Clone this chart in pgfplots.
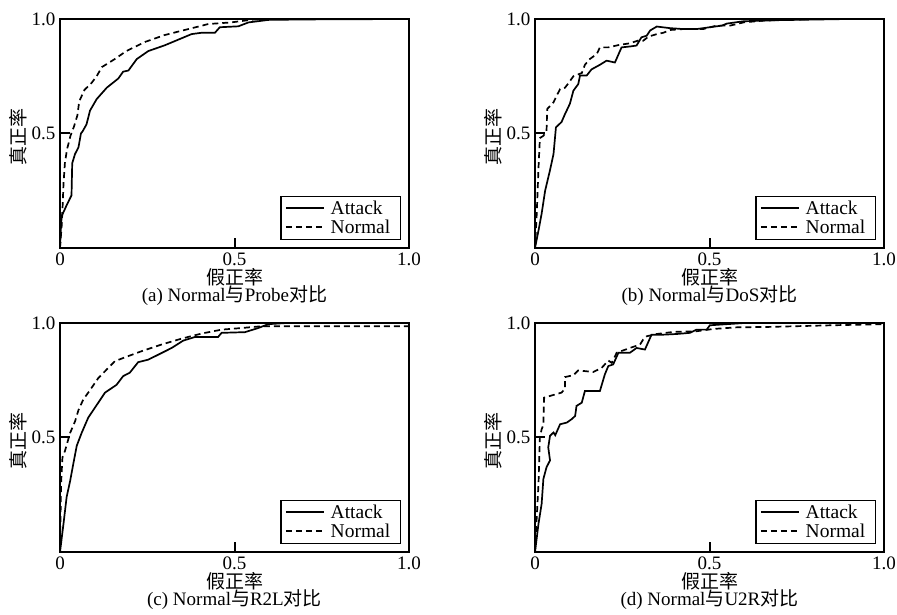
\documentclass[border=0pt]{standalone}
\usepackage{pgfplots}
\pgfplotsset{compat=1.18}
\usepackage{fontspec}
\setmainfont{Liberation Serif}
\newfontfamily\cjk{Noto Sans CJK SC}

\pgfplotsset{
  roc/.style={
    width=349pt, height=229pt, scale only axis,
    line width=2.6pt,
    xmin=0, xmax=1, ymin=0, ymax=1,
    xtick={0,0.5,1}, xticklabels={0,0.5,1.0},
    ytick={0.5,1}, yticklabels={0.5,1.0},
    xtick pos=left, ytick pos=left,
    tick align=inside, major tick length=10pt,
    tick style={black, line width=2pt},
    xlabel={\cjk 假正率}, ylabel={\cjk 真正率},
    xlabel style={at={(axis description cs:0.5,-0.127)}, anchor=center},
    ylabel style={at={(axis description cs:-0.12,0.485)}, anchor=center},
    title style={at={(axis description cs:0.5,-0.236)}, anchor=center},
    legend style={at={(rel axis cs:0.977,0.035)}, anchor=south east,
      draw=black, line width=1.4pt, inner xsep=4pt, inner ysep=3pt,
      row sep=1pt, font=\fontsize{19.5}{21}\selectfont,
      nodes={inner xsep=6pt, inner ysep=1.5pt}},
    legend cell align=left,
    legend image code/.code={\draw[#1] (0pt,0pt) -- (38pt,0pt);},
    font=\fontsize{19}{22}\selectfont,
  },
  atk/.style={black, solid, line width=1.7pt, mark=none},
  nrm/.style={black, line width=1.7pt, mark=none, dash pattern=on 6pt off 4pt},
}

\begin{document}
\begin{tikzpicture}
\path[use as bounding box] (0,0) rectangle (897pt,615pt);

% (a)
\begin{axis}[roc, at={(60pt,367pt)}, anchor=south west,
  title={(a) Normal{\cjk 与}Probe{\cjk 对比}}]
\addplot[atk] coordinates {(0,0) (0.003,0.10) (0.005,0.14) (0.02,0.19) (0.033,0.23)
 (0.035,0.37) (0.043,0.41) (0.053,0.44) (0.06,0.50) (0.065,0.51) (0.076,0.54)
 (0.086,0.60) (0.105,0.65) (0.134,0.70) (0.167,0.74) (0.181,0.77) (0.196,0.775)
 (0.22,0.825) (0.253,0.86) (0.30,0.885) (0.344,0.913) (0.377,0.934) (0.406,0.94)
 (0.444,0.94) (0.458,0.964) (0.511,0.968) (0.54,0.985) (0.597,0.996) (0.7,0.998) (1,1)};
\addlegendentry{Attack}
\addplot[nrm] coordinates {(0,0) (0.005,0.10) (0.008,0.20) (0.01,0.28) (0.014,0.37)
 (0.02,0.43) (0.03,0.49) (0.04,0.53) (0.05,0.58) (0.055,0.64) (0.07,0.69) (0.09,0.72)
 (0.105,0.75) (0.12,0.79) (0.157,0.825) (0.19,0.86) (0.244,0.90) (0.30,0.93)
 (0.368,0.956) (0.425,0.978) (0.49,0.985) (0.55,0.997) (0.6,1) (1,1)};
\addlegendentry{Normal}
\end{axis}

% (b)
\begin{axis}[roc, at={(535pt,367pt)}, anchor=south west,
  title={(b) Normal{\cjk 与}DoS{\cjk 对比}}]
\addplot[atk] coordinates {(0,0) (0.01,0.076) (0.019,0.15) (0.029,0.25) (0.043,0.34)
 (0.053,0.41) (0.06,0.527) (0.076,0.55) (0.086,0.585) (0.10,0.63) (0.11,0.687)
 (0.124,0.716) (0.129,0.753) (0.148,0.753) (0.162,0.78) (0.186,0.80) (0.205,0.818)
 (0.229,0.81) (0.248,0.876) (0.272,0.88) (0.291,0.884) (0.305,0.92) (0.32,0.927)
 (0.33,0.95) (0.349,0.967) (0.387,0.96) (0.425,0.956) (0.463,0.956) (0.501,0.964)
 (0.535,0.971) (0.55,0.98) (0.597,0.99) (0.7,0.995) (0.9,1) (1,1)};
\addlegendentry{Attack}
\addplot[nrm] coordinates {(0,0) (0.005,0.15) (0.01,0.35) (0.014,0.48) (0.024,0.49)
 (0.033,0.51) (0.035,0.607) (0.053,0.636) (0.062,0.665) (0.072,0.694) (0.086,0.70)
 (0.096,0.72) (0.11,0.75) (0.134,0.764) (0.143,0.80) (0.157,0.825) (0.177,0.847)
 (0.186,0.876) (0.21,0.876) (0.239,0.886) (0.272,0.894) (0.30,0.908) (0.31,0.905)
 (0.325,0.923) (0.349,0.934) (0.368,0.94) (0.387,0.952) (0.425,0.956) (0.482,0.956)
 (0.52,0.971) (0.559,0.971) (0.597,0.985) (0.654,0.993) (0.8,1) (1,1)};
\addlegendentry{Normal}
\end{axis}

% (c)
\begin{axis}[roc, at={(60pt,63pt)}, anchor=south west,
  title={(c) Normal{\cjk 与}R2L{\cjk 对比}}]
\addplot[atk] coordinates {(0,0) (0.01,0.123) (0.019,0.24) (0.029,0.31) (0.038,0.384)
 (0.048,0.464) (0.062,0.52) (0.081,0.587) (0.10,0.63) (0.129,0.696) (0.162,0.73)
 (0.181,0.768) (0.2,0.783) (0.224,0.829) (0.253,0.84) (0.282,0.862) (0.32,0.891)
 (0.353,0.923) (0.387,0.939) (0.453,0.939) (0.463,0.957) (0.53,0.96) (0.568,0.978)
 (0.597,0.995) (0.65,1) (1,1)};
\addlegendentry{Attack}
\addplot[nrm] coordinates {(0,0) (0.003,0.297) (0.007,0.413) (0.014,0.44) (0.029,0.52)
 (0.043,0.57) (0.053,0.62) (0.067,0.667) (0.081,0.696) (0.11,0.76) (0.157,0.833)
 (0.186,0.85) (0.234,0.877) (0.291,0.906) (0.349,0.932) (0.406,0.954) (0.463,0.971)
 (0.52,0.978) (0.578,0.986) (1,0.986)};
\addlegendentry{Normal}
\end{axis}

% (d)
\begin{axis}[roc, at={(535pt,63pt)}, anchor=south west,
  title={(d) Normal{\cjk 与}U2R{\cjk 对比}}]
\addplot[atk] coordinates {(0,0) (0.01,0.123) (0.019,0.21) (0.024,0.319) (0.033,0.37)
 (0.043,0.40) (0.038,0.457) (0.043,0.507) (0.053,0.522) (0.058,0.51) (0.072,0.558)
 (0.091,0.565) (0.105,0.58) (0.115,0.594) (0.119,0.638) (0.134,0.652) (0.143,0.703)
 (0.186,0.703) (0.2,0.775) (0.21,0.812) (0.224,0.819) (0.239,0.87) (0.272,0.87)
 (0.291,0.891) (0.315,0.884) (0.334,0.949) (0.368,0.949) (0.406,0.952) (0.444,0.957)
 (0.463,0.971) (0.492,0.971) (0.501,0.99) (0.6,1) (1,1)};
\addlegendentry{Attack}
\addplot[nrm] coordinates {(0,0) (0.005,0.152) (0.01,0.297) (0.014,0.5) (0.019,0.536)
 (0.024,0.555) (0.026,0.674) (0.076,0.696) (0.086,0.713) (0.086,0.764) (0.11,0.772)
 (0.124,0.793) (0.167,0.786) (0.191,0.804) (0.21,0.836) (0.22,0.826) (0.234,0.87)
 (0.272,0.891) (0.301,0.906) (0.31,0.928) (0.32,0.942) (0.349,0.952) (0.396,0.961)
 (0.463,0.964) (0.511,0.974) (0.578,0.981) (0.673,0.983) (0.85,0.99) (1,0.995)};
\addlegendentry{Normal}
\end{axis}
\end{tikzpicture}
\end{document}
